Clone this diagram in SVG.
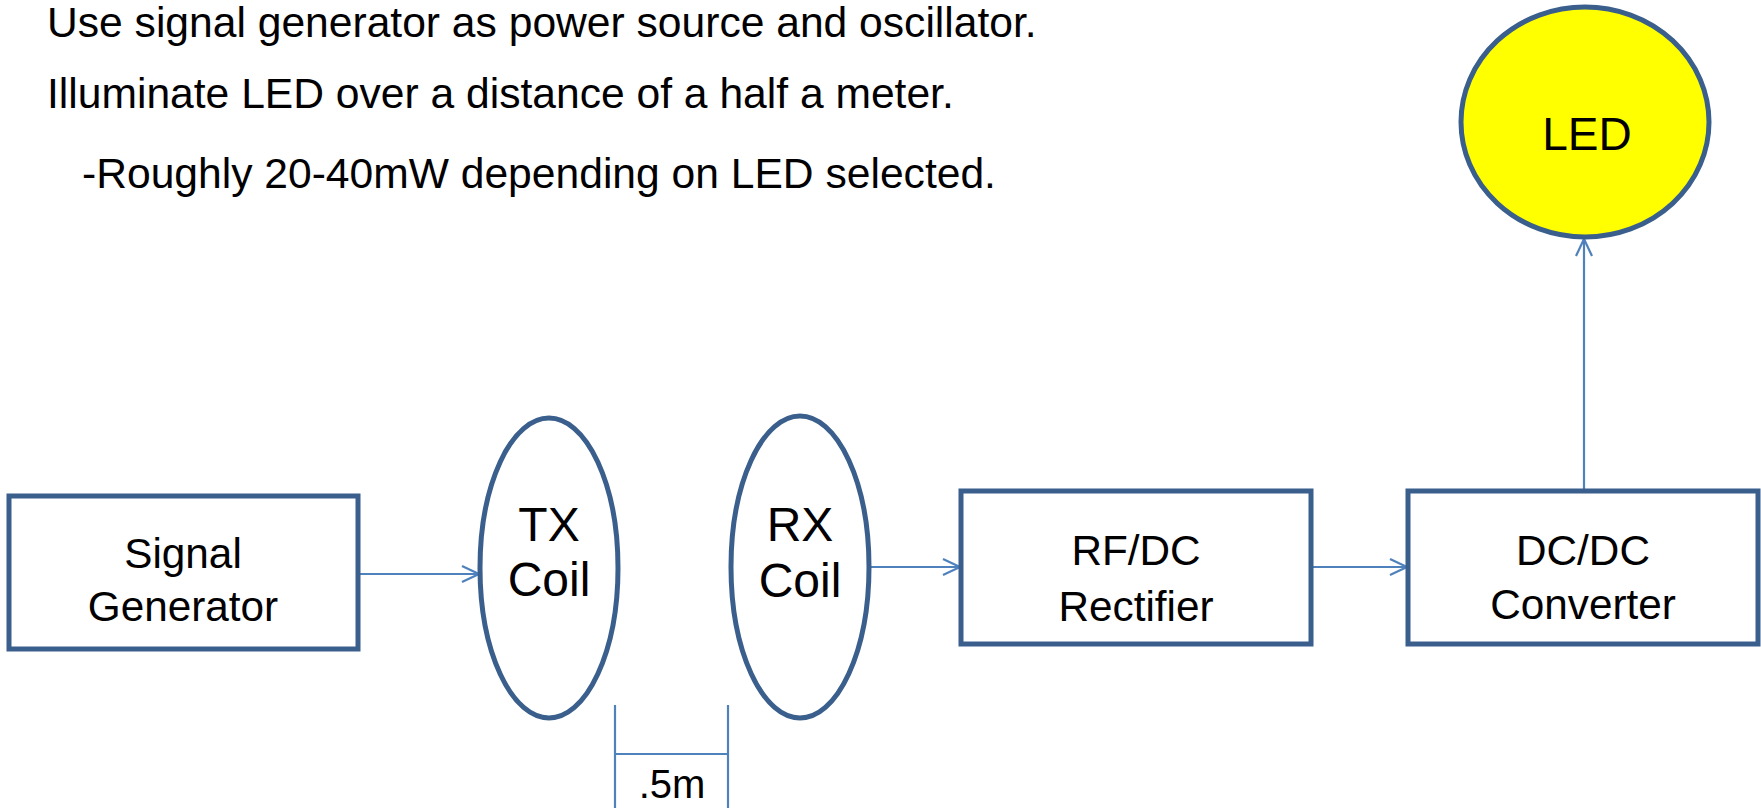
<svg xmlns="http://www.w3.org/2000/svg" width="1761" height="808" viewBox="0 0 1761 808">
<defs>
<style>
text{font-family:"Liberation Sans",Arial,sans-serif;fill:#000;}
.note{font-size:42.6px;}
.lbl{font-size:42.3px;text-anchor:middle;}
.big{font-size:48px;text-anchor:middle;}
.node{fill:#fff;stroke:#3A5F8C;stroke-width:5;}
.conn{fill:none;stroke:#4F81BD;stroke-width:2.2;}
</style>
<marker id="arr" viewBox="0 0 20 20" refX="19" refY="10" markerWidth="20" markerHeight="20" markerUnits="userSpaceOnUse" orient="auto">
<path d="M2,2 L19,10 L2,18" fill="none" stroke="#4F81BD" stroke-width="2.2"/>
</marker>
</defs>
<rect width="1761" height="808" fill="#fff"/>
<g id="notes">
<text class="note" x="47" y="37">Use signal generator as power source and oscillator.</text>
<text class="note" x="47" y="108">Illuminate LED over a distance of a half a meter.</text>
<text class="note" x="82" y="188">-Roughly 20-40mW depending on LED selected.</text>
</g>
<g id="connectors">
<line class="conn" x1="358" y1="574" x2="479" y2="574" marker-end="url(#arr)"/>
<line class="conn" x1="868" y1="567" x2="960" y2="567" marker-end="url(#arr)"/>
<line class="conn" x1="1311" y1="567" x2="1407" y2="567" marker-end="url(#arr)"/>
<line class="conn" x1="1584" y1="491" x2="1584" y2="239" marker-end="url(#arr)"/>
</g>
<g id="signal-generator">
<rect class="node" x="9" y="496" width="349" height="153"/>
<text class="lbl" x="183" y="568">Signal</text>
<text class="lbl" x="183" y="621">Generator</text>
</g>
<g id="tx-coil">
<ellipse class="node" cx="549" cy="568" rx="69" ry="150"/>
<text class="big" x="549" y="541">TX</text>
<text class="big" x="549" y="596">Coil</text>
</g>
<g id="rx-coil">
<ellipse class="node" cx="800" cy="567" rx="69" ry="151"/>
<text class="big" x="800" y="541">RX</text>
<text class="big" x="800" y="597">Coil</text>
</g>
<g id="rf-dc-rectifier">
<rect class="node" x="961" y="491" width="350" height="153"/>
<text class="lbl" x="1136" y="565">RF/DC</text>
<text class="lbl" x="1136" y="621">Rectifier</text>
</g>
<g id="dc-dc-converter">
<rect class="node" x="1408" y="491" width="350" height="153"/>
<text class="lbl" x="1583" y="565">DC/DC</text>
<text class="lbl" x="1583" y="619">Converter</text>
</g>
<g id="led">
<ellipse cx="1585" cy="122" rx="124" ry="115" fill="#FFFF00" stroke="#3A5F8C" stroke-width="5"/>
<text class="big" x="1587" y="150" style="font-size:46px">LED</text>
</g>
<g id="dimension">
<line class="conn" x1="615" y1="705" x2="615" y2="808"/>
<line class="conn" x1="728" y1="705" x2="728" y2="808"/>
<line class="conn" x1="615" y1="754" x2="728" y2="754"/>
<text class="lbl" x="672" y="798" style="font-size:40px">.5m</text>
</g>
</svg>
